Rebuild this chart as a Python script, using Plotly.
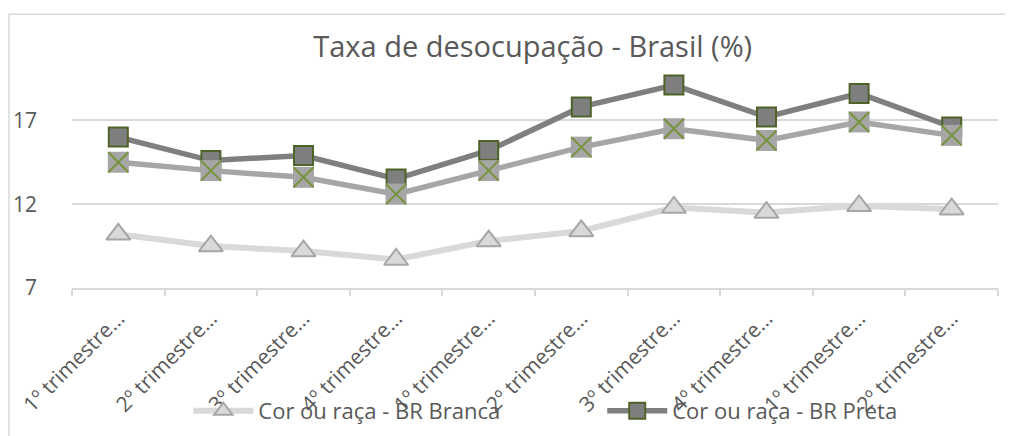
import plotly.graph_objects as go

categories = ["1º trimestre 2019", "2º trimestre 2019", "3º trimestre 2019", "4º trimestre 2019",
              "1º trimestre 2020", "2º trimestre 2020", "3º trimestre 2020", "4º trimestre 2020",
              "1º trimestre 2021", "2º trimestre 2021"]
tick_labels = ["1º trimestre…", "2º trimestre…", "3º trimestre…", "4º trimestre…",
               "1º trimestre…", "2º trimestre…", "3º trimestre…", "4º trimestre…",
               "1º trimestre…", "2º trimestre…"]
branca = [10.2, 9.5, 9.2, 8.7, 9.8, 10.4, 11.8, 11.5, 11.9, 11.7]
preta = [16.0, 14.6, 14.9, 13.5, 15.2, 17.8, 19.1, 17.2, 18.6, 16.6]
parda = [14.5, 14.0, 13.6, 12.6, 14.0, 15.4, 16.5, 15.8, 16.9, 16.1]

FONT = "Open Sans"
TXT = "#595959"
GRID = "#d9d9d9"

fig = go.Figure()
fig.add_trace(go.Scatter(
    x=categories, y=branca, name="Cor ou raça - BR Branca", mode="lines+markers",
    line=dict(color="#d9d9d9", width=6), legend="legend",
    marker=dict(symbol="triangle-up", size=21, color="#d9d9d9", line=dict(color="#a6a6a6", width=2)),
))
fig.add_trace(go.Scatter(
    x=categories, y=preta, name="Cor ou raça - BR Preta", mode="lines+markers",
    line=dict(color="#7f7f7f", width=5.5), legend="legend2",
    marker=dict(symbol="square", size=19, color="#7f7f7f", line=dict(color="#4f6228", width=2)),
))
fig.add_trace(go.Scatter(
    x=categories, y=parda, name="Cor ou raça - BR Parda", mode="lines+markers",
    line=dict(color="#a6a6a6", width=5.5), showlegend=False,
    marker=dict(symbol="square", size=21, color="#a6a6a6", line=dict(width=0)),
))
fig.add_trace(go.Scatter(
    x=categories, y=parda, name="Cor ou raça - BR Parda", mode="markers",
    showlegend=False, hoverinfo="skip",
    marker=dict(symbol="x-thin", size=20, color="#77933c", line=dict(color="#77933c", width=2)),
))

legend_common = dict(orientation="h", yanchor="middle", xanchor="left", itemwidth=60,
                     font=dict(family=FONT, size=22, color=TXT), bgcolor="rgba(0,0,0,0)")

L, T, W, H = 64, 62, 926, 227
fig.update_layout(
    width=1013, height=436,
    margin=dict(l=L, r=1013 - L - W, t=T, b=436 - T - H),
    paper_bgcolor="white", plot_bgcolor="white",
    font=dict(family=FONT, color=TXT),
    title=dict(text="Taxa de desocupação - Brasil (%)", x=0.518, xanchor="center",
               y=0.91, yanchor="middle", font=dict(family=FONT, size=29, color=TXT)),
    xaxis=dict(
        type="category", range=[-0.5, 9.5], tickmode="array", tickvals=categories,
        ticktext=tick_labels, tickangle=-45, tickfont=dict(size=21, color=TXT),
        showgrid=False, showline=True, linecolor=GRID, linewidth=1.5, automargin=False,
        ticks="outside", tickson="boundaries", ticklen=6, tickcolor=GRID, tickwidth=1.5,
        ticklabelstandoff=8,
    ),
    yaxis=dict(
        range=[7, 20], tick0=7, dtick=5, showgrid=True, gridcolor=GRID, gridwidth=1.5,
        zeroline=False, showline=False, tickfont=dict(size=21, color=TXT), ticks="",
        ticklabelstandoff=34, automargin=False,
    ),
    legend=dict(x=0.1256, y=-0.564, **legend_common),
    legend2=dict(x=0.5726, y=-0.564, **legend_common),
    shapes=[dict(type="rect", xref="paper", yref="paper",
                 x0=(1 - L) / W, x1=(1030 - L) / W,
                 y0=(T + H - 460) / H, y1=(T + H - 4) / H,
                 line=dict(color=GRID, width=1.5), fillcolor="rgba(0,0,0,0)", layer="below")],
)

fig.write_html("out.html")
